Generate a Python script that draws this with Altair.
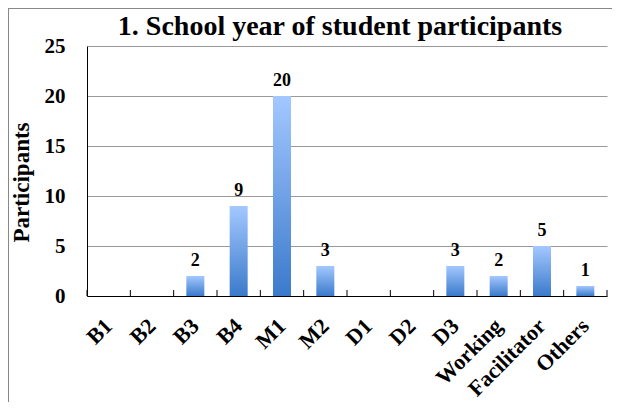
import altair as alt
import pandas as pd

title_text = "1. School year of student participants"
categories = ["B1", "B2", "B3", "B4", "M1", "M2", "D1", "D2", "D3", "Working", "Facilitator", "Others"]
participants = [0, 0, 2, 9, 20, 3, 0, 0, 3, 2, 5, 1]

df = pd.DataFrame({"cat": categories, "n": participants})
df["label"] = [str(v) if v > 0 else "" for v in participants]

FONT = "Liberation Serif"
xsort = categories

grad = alt.Gradient(
    gradient="linear",
    stops=[alt.GradientStop(color="#A3C8FF", offset=0),
           alt.GradientStop(color="#3B7ACB", offset=1)],
    x1=0, x2=0, y1=0, y2=1,
)

x_enc = alt.X("cat:N", sort=xsort, title=None,
              scale=alt.Scale(paddingInner=0, paddingOuter=0),
              axis=alt.Axis(labelAngle=-45, labelFont=FONT, labelFontSize=22,
                            labelFontWeight="bold", labelColor="black",
                            labelPadding=26, ticks=False, domainColor="black",
                            labelAlign="right", labelBaseline="middle"))
y_enc = alt.Y("n:Q", title="Participants",
              scale=alt.Scale(domain=[0, 25], nice=False),
              axis=alt.Axis(values=[0, 5, 10, 15, 20, 25], labelFont=FONT,
                            labelFontSize=21, labelFontWeight="bold",
                            labelColor="black", labelPadding=22, ticks=False,
                            titleFont=FONT, titleFontSize=23,
                            titleFontWeight="bold", titleColor="black",
                            titleX=-66, titleY=136, titleBaseline="middle",
                            domainColor="black",
                            gridColor="#9a9a9a", gridWidth=1))

base = alt.Chart(df)

bars = base.mark_bar(size=18, color=grad).encode(x=x_enc, y=y_enc)

labels = base.mark_text(font=FONT, fontSize=18, fontWeight="bold",
                        color="black", baseline="bottom", dy=-6).encode(
    x=alt.X("cat:N", sort=xsort), y="n:Q", text="label:N")

ticks = base.mark_rule(color="black").encode(
    x=alt.X("cat:N", sort=xsort, bandPosition=0),
    y=alt.datum(0), y2=alt.datum(0.6))

end_df = pd.DataFrame({"cat": [categories[-1]]})
end_tick = alt.Chart(end_df).mark_rule(color="black").encode(
    x=alt.X("cat:N", sort=xsort, bandPosition=1),
    y=alt.datum(0), y2=alt.datum(0.6))

title_df = pd.DataFrame({"t": [title_text]})
title_mark = alt.Chart(title_df).mark_text(
    font=FONT, fontSize=28, fontWeight="bold", color="black",
    align="center", baseline="alphabetic").encode(
    x=alt.value(253), y=alt.value(-11), text="t:N")

frame_left = alt.Chart(end_df).mark_rule(color="#888888", strokeWidth=1).encode(
    x=alt.value(-78.5), y=alt.value(-38), y2=alt.value(406))
frame_top = alt.Chart(end_df).mark_rule(color="#888888", strokeWidth=1).encode(
    x=alt.value(-79), x2=alt.value(530), y=alt.value(-37.5))

chart = alt.layer(bars, labels, ticks, end_tick, title_mark, frame_left, frame_top).properties(
    width=520, height=250,
    padding={"left": 79, "top": 38, "right": 5, "bottom": 106},
    autosize=alt.AutoSizeParams(type="none"),
).configure_view(stroke=None)

chart.save("out.html", embed_options={"renderer": "svg", "actions": False})
